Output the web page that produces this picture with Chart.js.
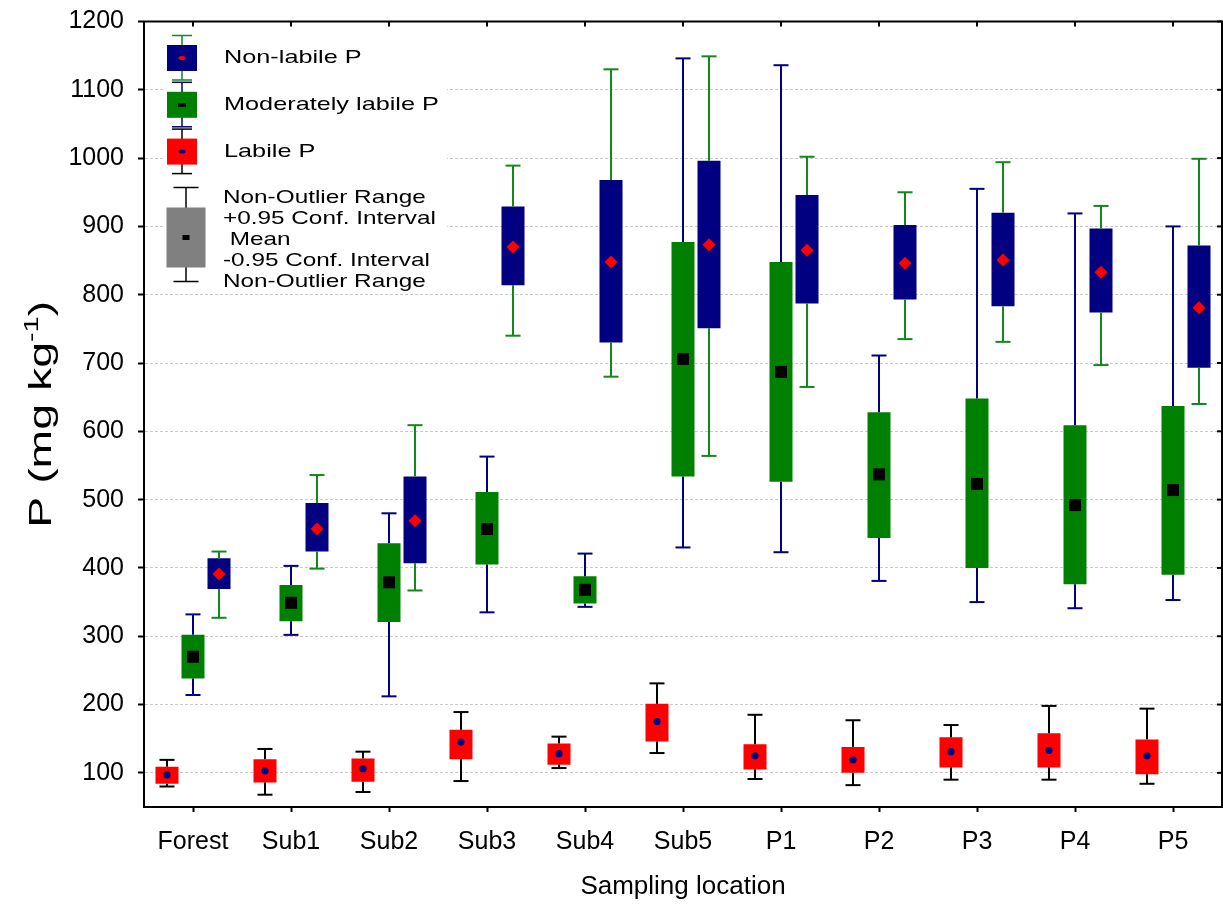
<!DOCTYPE html>
<html>
<head>
<meta charset="utf-8">
<title>P fractions by sampling location</title>
<script src="https://cdn.jsdelivr.net/npm/chart.js@4.4.1/dist/chart.umd.min.js"></script>
<style>
  html, body { margin: 0; padding: 0; background: #fff; }
  #wrap { width: 1223px; height: 905px; position: relative; }
</style>
</head>
<body>
<div id="wrap"><canvas id="pChart"></canvas></div>
<script>
const locations = ['Forest', 'Sub1', 'Sub2', 'Sub3', 'Sub4', 'Sub5', 'P1', 'P2', 'P3', 'P4', 'P5'];
const yTickValues = [100, 200, 300, 400, 500, 600, 700, 800, 900, 1000, 1100, 1200];

// Labile P
const labileMean   = [97, 103, 106, 145, 128, 175, 125, 119, 131, 133, 125];
const labileCiLow  = [84, 86, 87, 120, 112, 146, 105, 100, 108, 108, 98];
const labileCiHigh = [109, 120, 121, 163, 143, 201, 142, 138, 152, 158, 149];
const labileMin    = [80, 68, 72, 88, 107, 129, 91, 82, 90, 90, 84];
const labileMax    = [119, 135, 131, 189, 153, 231, 185, 177, 170, 198, 194];

// Moderately labile P
const modMean   = [270, 349, 379, 457, 368, 706, 687, 537, 523, 492, 514];
const modCiLow  = [238, 322, 321, 405, 348, 534, 526, 444, 400, 376, 390];
const modCiHigh = [302, 375, 436, 511, 388, 877, 848, 628, 648, 609, 637];
const modMin    = [214, 302, 212, 335, 343, 430, 423, 381, 350, 341, 353];
const modMax    = [332, 403, 480, 563, 421, 1146, 1136, 711, 955, 919, 900];

// Non-labile P
const nonMean   = [391, 457, 469, 870, 848, 873, 865, 846, 851, 833, 781];
const nonCiLow  = [369, 424, 407, 814, 730, 751, 787, 793, 783, 774, 693];
const nonCiHigh = [414, 495, 534, 929, 968, 996, 946, 902, 920, 897, 872];
const nonMin    = [327, 399, 367, 740, 680, 564, 665, 735, 731, 697, 640];
const nonMax    = [424, 536, 609, 989, 1130, 1149, 1002, 950, 994, 930, 999];

const FONT = '"Liberation Sans", Arial, sans-serif';

const series = [
    { label: 'Labile P', mean: labileMean, lo: labileCiLow, hi: labileCiHigh, min: labileMin, max: labileMax,
      box: '#ff0000', whisker: '#000000', marker: 'circle', markerColor: '#000080' },
    { label: 'Moderately labile P', mean: modMean, lo: modCiLow, hi: modCiHigh, min: modMin, max: modMax,
      box: '#008000', whisker: '#000080', marker: 'square', markerColor: '#000000' },
    { label: 'Non-labile P', mean: nonMean, lo: nonCiLow, hi: nonCiHigh, min: nonMin, max: nonMax,
      box: '#000080', whisker: '#12881a', marker: 'diamond', markerColor: '#ff0000' }
];

function drawMarker(ctx, type, x, y, color) {
    ctx.fillStyle = color;
    if (type === 'circle') {
        ctx.beginPath();
        ctx.arc(x, y, 3.6, 0, Math.PI * 2);
        ctx.fill();
    } else if (type === 'square') {
        ctx.fillRect(x - 6, y - 6, 12, 12);
    } else {
        ctx.beginPath();
        ctx.moveTo(x, y - 6.5);
        ctx.lineTo(x + 6.5, y);
        ctx.lineTo(x, y + 6.5);
        ctx.lineTo(x - 6.5, y);
        ctx.closePath();
        ctx.fill();
    }
}

function line(ctx, x1, y1, x2, y2) {
    ctx.beginPath();
    ctx.moveTo(x1, y1);
    ctx.lineTo(x2, y2);
    ctx.stroke();
}

// text drawn with a horizontal stretch, like the legend and y title
function wideText(ctx, txt, x, y, stretch) {
    ctx.save();
    ctx.translate(x, y);
    ctx.scale(stretch, 1);
    ctx.fillText(txt, 0, 0);
    ctx.restore();
}

// whiskers and means on top of the boxes
const boxExtras = {
    id: 'boxExtras',
    afterDatasetsDraw(chart) {
        const ctx = chart.ctx;
        const ys = chart.scales.y;
        series.forEach((s, i) => {
            const meta = chart.getDatasetMeta(i);
            meta.data.forEach((bar, j) => {
                const x = bar.x;
                const yTop = ys.getPixelForValue(s.max[j]);
                const yBot = ys.getPixelForValue(s.min[j]);
                const yHi = ys.getPixelForValue(s.hi[j]);
                const yLo = ys.getPixelForValue(s.lo[j]);
                ctx.save();
                ctx.strokeStyle = s.whisker;
                ctx.lineWidth = 2;
                line(ctx, x, yHi, x, yTop);
                line(ctx, x, yLo, x, yBot);
                line(ctx, x - 7.5, yTop, x + 7.5, yTop);
                line(ctx, x - 7.5, yBot, x + 7.5, yBot);
                drawMarker(ctx, s.marker, x, ys.getPixelForValue(s.mean[j]), s.markerColor);
                ctx.restore();
            });
        });
    }
};

// white panel behind the legend, above the grid
const legendPanel = {
    id: 'legendPanel',
    beforeDatasetsDraw(chart) {
        const a = chart.chartArea;
        const ctx = chart.ctx;
        ctx.save();
        ctx.fillStyle = '#fff';
        ctx.fillRect(a.left + 21, a.top + 6, 282, 266);
        ctx.restore();
    }
};

// frame, inward ticks, legend and y title
const decorations = {
    id: 'decorations',
    afterDraw(chart) {
        const ctx = chart.ctx;
        const a = chart.chartArea;
        const xs = chart.scales.x;
        const ys = chart.scales.y;
        ctx.save();
        ctx.strokeStyle = '#000';
        ctx.lineWidth = 2;
        ctx.beginPath();
        ctx.moveTo(a.left - 1, a.top);
        ctx.lineTo(a.right, a.top);
        ctx.lineTo(a.right, a.bottom + 1);
        ctx.stroke();
        locations.forEach((_, i) => {
            const x = xs.getPixelForValue(i);
            line(ctx, x, a.top, x, a.top + 5);
        });
        yTickValues.forEach(v => {
            const y = ys.getPixelForValue(v);
            line(ctx, a.right, y, a.right - 5, y);
        });

        // legend
        const cx = a.left + 38;
        const t = a.top;
        ctx.font = '19px ' + FONT;
        ctx.textBaseline = 'middle';
        ctx.textAlign = 'left';
        const entries = [...series].reverse();
        entries.forEach((s, k) => {
            const y0 = t + 23.5 + k * 46.8;
            ctx.strokeStyle = s.whisker;
            ctx.lineWidth = 1.5;
            line(ctx, cx, y0 - 9.5, cx, y0 + 35);
            line(ctx, cx - 10, y0 - 9.5, cx + 10, y0 - 9.5);
            line(ctx, cx - 10, y0 + 35, cx + 10, y0 + 35);
            ctx.fillStyle = s.box;
            ctx.fillRect(cx - 15, y0, 30, 26);
            ctx.fillStyle = s.markerColor;
            if (s.marker === 'square') {
                ctx.fillRect(cx - 4, y0 + 11.5, 8, 3.5);
            } else {
                ctx.beginPath();
                ctx.ellipse(cx, y0 + 13, 3.5, 2, 0, 0, Math.PI * 2);
                ctx.fill();
            }
            ctx.fillStyle = '#000';
            wideText(ctx, s.label, a.left + 80, y0 + 13, 1.33);
        });

        // key for the box elements
        const gx = a.left + 42;
        ctx.strokeStyle = '#000';
        ctx.lineWidth = 1.5;
        line(ctx, gx, t + 166, gx, t + 260);
        line(ctx, gx - 12.5, t + 166, gx + 12.5, t + 166);
        line(ctx, gx - 12.5, t + 260, gx + 12.5, t + 260);
        ctx.fillStyle = '#808080';
        ctx.fillRect(gx - 19.5, t + 186, 39, 60);
        ctx.fillStyle = '#000';
        ctx.fillRect(gx - 3.5, t + 213.5, 7, 5);
        const keyLines = ['Non-Outlier Range', '+0.95 Conf. Interval', ' Mean', '-0.95 Conf. Interval', 'Non-Outlier Range'];
        keyLines.forEach((txt, k) => {
            wideText(ctx, txt, a.left + 79, t + 176.5 + k * 21, 1.28);
        });

        // y title with superscript
        const stretch = 1.45;
        const big = '32px ' + FONT;
        const small = '20px ' + FONT;
        ctx.font = big;
        const w1 = ctx.measureText('P (mg kg').width;
        const w3 = ctx.measureText(')').width;
        ctx.font = small;
        const w2 = ctx.measureText('-1').width;
        const total = w1 + w2 + w3;
        ctx.translate(40, (a.top + a.bottom) / 2);
        ctx.rotate(-Math.PI / 2);
        ctx.scale(stretch, 1);
        ctx.textBaseline = 'alphabetic';
        ctx.font = big;
        let px = -total / 2;
        ctx.fillText('P (mg kg', px, 11);
        px += w1;
        ctx.font = small;
        ctx.fillText('-1', px, -2);
        px += w2;
        ctx.font = big;
        ctx.fillText(')', px, 11);
        ctx.restore();
    }
};

const ctxP = document.getElementById('pChart').getContext('2d');

const pChart = new Chart(ctxP, {
    type: 'bar',
    data: {
        labels: locations,
        datasets: series.map(s => ({
            label: s.label,
            data: s.lo.map((v, i) => [v, s.hi[i]]),
            backgroundColor: s.box,
            borderWidth: 0,
            barPercentage: 0.885,
            categoryPercentage: 0.796
        }))
    },
    options: {
        responsive: true,
        maintainAspectRatio: false,
        animation: false,
        layout: { padding: { top: 21.5, right: 1, left: 0, bottom: 0 } },
        plugins: {
            legend: { display: false },
            tooltip: { enabled: false }
        },
        scales: {
            x: {
                offset: true,
                grid: { offset: false, drawOnChartArea: false, drawTicks: true, tickLength: 5, tickColor: '#000', tickWidth: 2 },
                border: { display: true, color: '#000', width: 2 },
                ticks: { color: '#000', font: { family: FONT, size: 25 }, padding: 15, maxRotation: 0 },
                title: { display: true, text: 'Sampling location', color: '#000', font: { family: FONT, size: 26 }, padding: { top: 0, bottom: 3 } },
                afterFit(scale) { scale.height = 98; }
            },
            y: {
                min: 50,
                max: 1200,
                afterBuildTicks(scale) { scale.ticks = yTickValues.map(v => ({ value: v })); },
                grid: { color: '#c8c8c8', lineWidth: 1, tickColor: '#000', tickWidth: 2, tickLength: 6, tickBorderDash: [] },
                border: { display: true, color: '#000', width: 2, dash: [3, 2] },
                ticks: { color: '#000', font: { family: FONT, size: 25 }, padding: 14, callback: v => String(v) },
                afterFit(scale) {
                    scale.width = 144;
                    scale.paddingTop = 0;
                    scale.paddingBottom = 0;
                }
            }
        }
    },
    plugins: [legendPanel, boxExtras, decorations]
});
</script>
</body>
</html>
